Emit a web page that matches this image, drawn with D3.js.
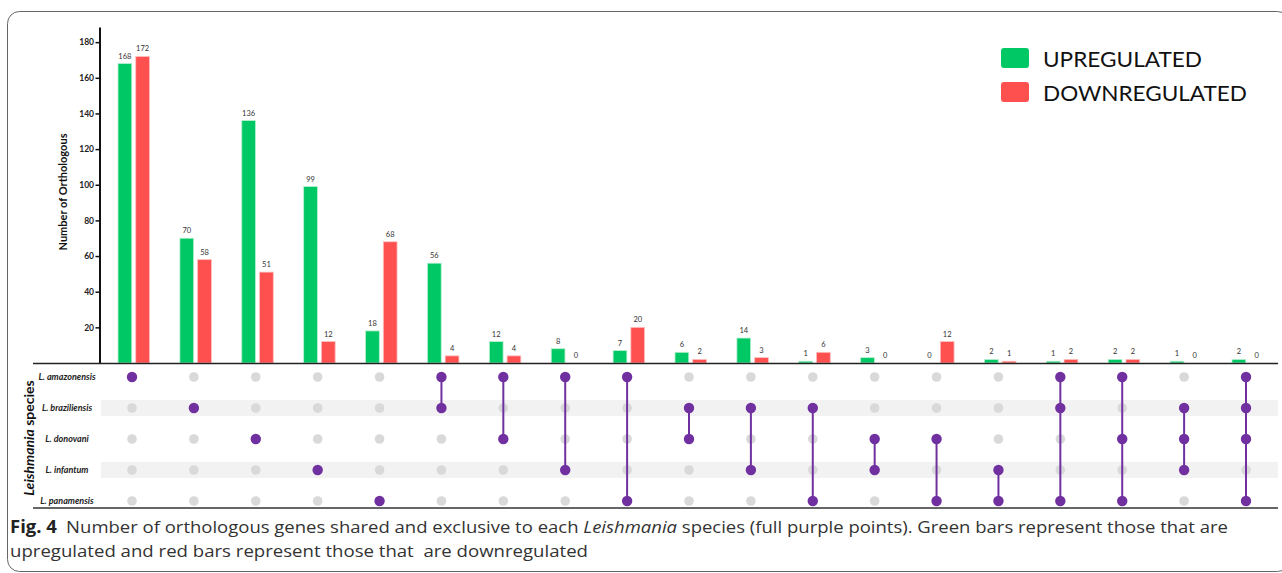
<!DOCTYPE html>
<html>
<head>
<meta charset="utf-8">
<script src="https://cdn.jsdelivr.net/npm/d3@7/dist/d3.min.js"></script>
<style>
  html, body { margin: 0; padding: 0; background: #fff; }
  svg { display: block; }
</style>
</head>
<body>
<svg id="chart" width="1282" height="573"></svg>
<script>
// ---------- DATA ----------
const species = ["L. amazonensis", "L. braziliensis", "L. donovani", "L. infantum", "L. panamensis"];
const intersections = [
  ["L. amazonensis"],
  ["L. braziliensis"],
  ["L. donovani"],
  ["L. infantum"],
  ["L. panamensis"],
  ["L. amazonensis", "L. braziliensis"],
  ["L. amazonensis", "L. donovani"],
  ["L. amazonensis", "L. infantum"],
  ["L. amazonensis", "L. panamensis"],
  ["L. braziliensis", "L. donovani"],
  ["L. braziliensis", "L. infantum"],
  ["L. braziliensis", "L. panamensis"],
  ["L. donovani", "L. infantum"],
  ["L. donovani", "L. panamensis"],
  ["L. infantum", "L. panamensis"],
  ["L. amazonensis", "L. braziliensis", "L. panamensis"],
  ["L. amazonensis", "L. donovani", "L. panamensis"],
  ["L. braziliensis", "L. donovani", "L. infantum"],
  ["L. amazonensis", "L. braziliensis", "L. donovani", "L. panamensis"]
];
const upregulated   = [168, 70, 136, 99, 18, 56, 12, 8, 7, 6, 14, 1, 3, 0, 2, 1, 2, 1, 2];
const downregulated = [172, 58, 51, 12, 68, 4, 4, 0, 20, 2, 3, 6, 0, 12, 1, 2, 2, 0, 0];
const yTicks = [20, 40, 60, 80, 100, 120, 140, 160, 180];
const seriesNames = ["UPREGULATED", "DOWNREGULATED"];

// ---------- STYLE ----------
const GREEN = "#00c864", RED = "#ff5050", PURPLE = "#7030a0", GREY = "#d9d9d9";
const FONT = "Lato, 'Open Sans', sans-serif";

const svg = d3.select("#chart");

// frame
svg.append("rect")
  .attr("x", 7.5).attr("y", 11.5).attr("width", 1282).attr("height", 560)
  .attr("rx", 12).attr("fill", "none").attr("stroke", "#666").attr("stroke-width", 1);

// scales
const ids = intersections.map((d, i) => i);
const x = d3.scalePoint().domain(ids).range([132, 1246]);
const sub = d3.scaleBand().domain(["up", "down"]).range([-14, 17.5]).paddingInner(0.225);
const y = d3.scaleLinear().domain([0, 188.5]).range([363, 27]);
const row = d3.scalePoint().domain(species).range([377, 501]);

// bars
const barData = [];
ids.forEach(i => {
  barData.push({ i, key: "up", v: upregulated[i] });
  barData.push({ i, key: "down", v: downregulated[i] });
});
const gBars = svg.append("g");
gBars.selectAll("rect").data(barData.filter(d => d.v > 0)).join("rect")
  .attr("x", d => x(d.i) + sub(d.key))
  .attr("width", sub.bandwidth())
  .attr("y", d => y(d.v))
  .attr("height", d => y(0) - y(d.v))
  .attr("fill", d => d.key === "up" ? GREEN : RED)
  .attr("stroke", d => d.key === "up" ? "#b8f0d0" : "#ffc0c0")
  .attr("stroke-width", 0.8);

gBars.selectAll("text").data(barData).join("text")
  .attr("x", d => x(d.i) + sub(d.key) + sub.bandwidth() / 2)
  .attr("y", d => y(d.v) - 5)
  .attr("text-anchor", "middle")
  .attr("font-family", FONT).attr("font-size", 7.5)
  .attr("fill", "#333")
  .text(d => d.v);

// y axis
const yAxis = d3.axisLeft(y).tickValues(yTicks).tickSize(4).tickSizeOuter(0).tickPadding(1.5);
const gAxis = svg.append("g").attr("transform", "translate(99.5,0)").call(yAxis);
gAxis.select(".domain").attr("stroke", "#111").attr("stroke-width", 2);
gAxis.selectAll(".tick line").attr("stroke", "#111").attr("stroke-width", 1.5);
gAxis.selectAll(".tick text")
  .attr("font-family", FONT).attr("font-size", 8.5).attr("font-weight", "bold").attr("fill", "#222");

svg.append("text")
  .attr("transform", "translate(67,192) rotate(-90)")
  .attr("text-anchor", "middle")
  .attr("font-family", FONT).attr("font-size", 11).attr("font-weight", "bold").attr("fill", "#111")
  .attr("textLength", 117).attr("lengthAdjust", "spacingAndGlyphs")
  .text("Number of Orthologous");

// baseline and matrix bottom line
svg.append("line").attr("x1", 33).attr("x2", 1278).attr("y1", 363.5).attr("y2", 363.5)
  .attr("stroke", "#222").attr("stroke-width", 1.5);
svg.append("line").attr("x1", 33).attr("x2", 1278).attr("y1", 508).attr("y2", 508)
  .attr("stroke", "#333").attr("stroke-width", 1.5);

// matrix stripes
svg.append("g").selectAll("rect").data(species.filter((s, k) => k % 2 === 1)).join("rect")
  .attr("x", 101).attr("width", 1177)
  .attr("y", d => row(d) - 8).attr("height", 16)
  .attr("fill", "#f2f2f2");

// row labels
svg.append("g").selectAll("text").data(species).join("text")
  .attr("x", 67).attr("y", d => row(d) + 3)
  .attr("text-anchor", "middle")
  .attr("font-family", FONT).attr("font-size", 9).attr("font-weight", "bold").attr("font-style", "italic")
  .attr("fill", "#222")
  .text(d => d);

// "Leishmania species"
const sp = svg.append("text")
  .attr("transform", "translate(34,438) rotate(-90)")
  .attr("text-anchor", "middle")
  .attr("font-family", FONT).attr("font-size", 14).attr("font-weight", "bold").attr("fill", "#111");
sp.append("tspan").attr("font-style", "italic").text("Leishmania");
sp.append("tspan").text(" species");

// matrix dots
const gM = svg.append("g");
ids.forEach(i => {
  const col = gM.append("g");
  col.selectAll("circle.bg").data(species).join("circle")
    .attr("class", "bg")
    .attr("cx", x(i)).attr("cy", d => row(d)).attr("r", 4.8)
    .attr("fill", GREY);
  const mem = intersections[i];
  if (mem.length > 1) {
    const ys = mem.map(m => row(m));
    col.append("line")
      .attr("x1", x(i)).attr("x2", x(i))
      .attr("y1", d3.min(ys)).attr("y2", d3.max(ys))
      .attr("stroke", PURPLE).attr("stroke-width", 2);
  }
  col.selectAll("circle.fg").data(mem).join("circle")
    .attr("class", "fg")
    .attr("cx", x(i)).attr("cy", d => row(d)).attr("r", 5.2)
    .attr("fill", PURPLE);
});

// legend
const leg = svg.append("g");
const legColors = [GREEN, RED];
const legLens = [159, 204];
seriesNames.forEach((n, k) => {
  leg.append("rect").attr("x", 1001).attr("y", 48 + k * 34).attr("width", 28).attr("height", 20)
    .attr("rx", 3).attr("fill", legColors[k]);
  leg.append("text").attr("x", 1043).attr("y", 67 + k * 33.5)
    .attr("font-family", FONT).attr("font-size", 21).attr("fill", "#111")
    .attr("textLength", legLens[k]).attr("lengthAdjust", "spacingAndGlyphs")
    .text(n);
});

// caption
const CAPF = "'Open Sans', 'Noto Sans', sans-serif";
const c1 = svg.append("text").attr("x", 10).attr("y", 533)
  .attr("font-family", CAPF).attr("font-size", 17).attr("fill", "#333")
  .attr("textLength", 1218).attr("lengthAdjust", "spacingAndGlyphs");
c1.append("tspan").attr("font-weight", "bold").attr("fill", "#222").text("Fig. 4");
c1.append("tspan").text("\u2002Number of orthologous genes shared and exclusive to each ");
c1.append("tspan").attr("font-style", "italic").text("Leishmania");
c1.append("tspan").text(" species (full purple points). Green bars represent those that are");
svg.append("text").attr("x", 10).attr("y", 557)
  .attr("font-family", CAPF).attr("font-size", 17).attr("fill", "#333")
  .attr("textLength", 578).attr("lengthAdjust", "spacingAndGlyphs")
  .attr("xml:space", "preserve")
  .text("upregulated and red bars represent those that  are downregulated");
</script>
</body>
</html>
